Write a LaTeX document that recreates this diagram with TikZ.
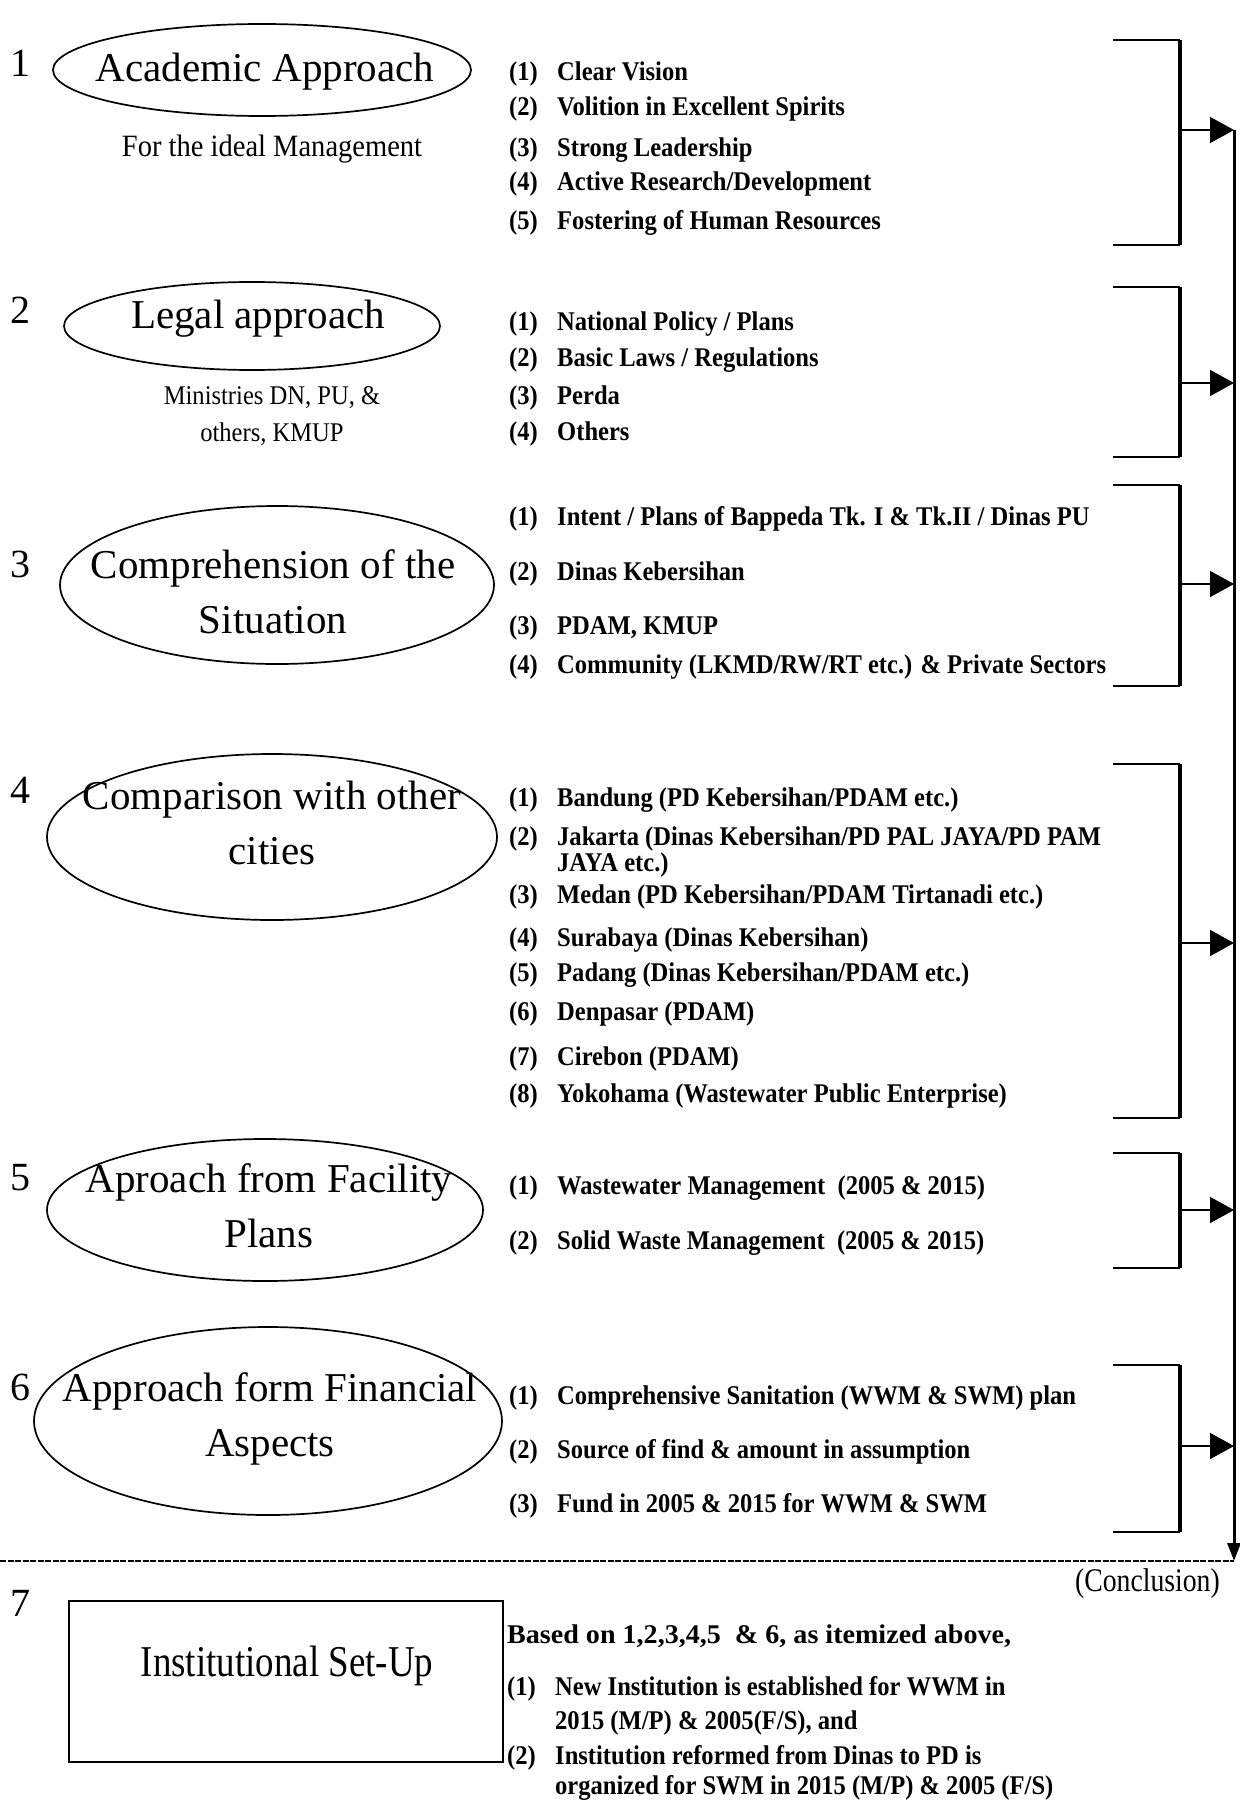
\documentclass[tikz,border=0pt]{standalone}
\usepackage{fontspec}
\setmainfont{Liberation Serif}
\newfontfamily\itemfont[FakeStretch=0.91]{Liberation Serif Bold}
\newfontfamily\basisfont[FakeStretch=1.04]{Liberation Serif Bold}
\newfontfamily\narrowfont[FakeStretch=0.84]{Liberation Serif}
\newfontfamily\notefont[FakeStretch=0.92]{Liberation Serif}
\newfontfamily\ministryfont[FakeStretch=0.91]{Liberation Serif}
\usetikzlibrary{shapes.geometric,arrows.meta}

\begin{document}
\begin{tikzpicture}[x=1pt,y=-1pt,
  ell/.style={draw, ellipse, line width=1.7pt, inner sep=0pt},
  elltext/.style={align=center, inner sep=0pt, font=\fontsize{41}{55}\selectfont},
  secnum/.style={inner sep=0pt, font=\fontsize{40}{40}\selectfont},
  inum/.style={anchor=west, inner sep=0pt, text height=22pt, text depth=4pt,
               font=\itemfont\fontsize{27}{27}\selectfont},
  note/.style={align=center, inner sep=0pt, font=\notefont\fontsize{31}{36}\selectfont},
  ministry/.style={inner sep=0pt, font=\ministryfont\fontsize{27}{36}\selectfont},
  arm/.style={line width=2pt},
  bar/.style={line width=3.5pt},
  feed/.style={line width=1.6pt, -{Triangle[length=24pt,width=26pt]}},
  trunk/.style={line width=3pt, -{Triangle[length=18pt,width=13pt]}},
  divider/.style={line width=1.6pt, dash pattern=on 6pt off 1.5pt},
  ]
\useasboundingbox (0,0) rectangle (1239,1803);

% ---------- section numbers ----------
\node[secnum] (s1) at (20,63)   {1};
\node[secnum] (s2) at (20,310)  {2};
\node[secnum] (s3) at (20,564)  {3};
\node[secnum] (s4) at (20,790)  {4};
\node[secnum] (s5) at (20,1178) {5};
\node[secnum] (s6) at (20,1387) {6};
\node[secnum] (s7) at (20,1603) {7};

% ---------- approach ellipses ----------
\node[ell, minimum width=418pt, minimum height=92pt]  (e1) at (262,70)   {};
\node[elltext] (l1) at (265,72) {Academic Approach};
\node[note] (d1) at (272,149) {For the ideal Management};

\node[ell, minimum width=376pt, minimum height=88pt]  (e2) at (252,326)  {};
\node[elltext] (l2) at (258,319) {Legal approach};
\node[ministry] (d2a) at (272,398) {Ministries DN, PU, \&};
\node[ministry] (d2b) at (272,434) {others, KMUP};

\node[ell, minimum width=434pt, minimum height=158pt] (e3) at (277,585)  {};
\node[elltext] (l3) at (273,592) {Comprehension of the\\Situation};

\node[ell, minimum width=450pt, minimum height=166pt] (e4) at (272,837)  {};
\node[elltext] (l4) at (272,823) {Comparison with other\\cities};

\node[ell, minimum width=436pt, minimum height=142pt] (e5) at (265,1210) {};
\node[elltext] (l5) at (269,1206) {Aproach from Facility\\Plans};

\node[ell, minimum width=468pt, minimum height=188pt] (e6) at (268,1421) {};
\node[elltext] (l6) at (270,1419) {Approach form Financial\\Aspects};

% ---------- item lists ----------
\foreach \y/\n/\t [count=\i] in {72/1/{Clear Vision},
    107/2/{Volition in Excellent Spirits}, 148/3/{Strong Leadership},
    182/4/{Active Research/Development}, 221/5/{Fostering of Human Resources}} {
  \node[inum] (n1-\i) at (509,\y) {(\n)};
  \node[inum] (t1-\i) at (557,\y) {\t};
}
\foreach \y/\n/\t [count=\i] in {321/1/{National Policy / Plans},
    357/2/{Basic Laws / Regulations}, 395/3/{Perda}, 431/4/{Others}} {
  \node[inum] (n2-\i) at (509,\y) {(\n)};
  \node[inum] (t2-\i) at (557,\y) {\t};
}
\foreach \y/\n/\t [count=\i] in {516/1/{Intent / Plans of Bappeda Tk. I \& Tk.II / Dinas PU},
    571/2/{Dinas Kebersihan}, 625/3/{PDAM, KMUP},
    664/4/{Community (LKMD/RW/RT etc.) \& Private Sectors}} {
  \node[inum] (n3-\i) at (509,\y) {(\n)};
  \node[inum] (t3-\i) at (557,\y) {\t};
}
\foreach \y/\n/\t [count=\i] in {797/1/{Bandung (PD Kebersihan/PDAM etc.)},
    836/2/{Jakarta (Dinas Kebersihan/PD PAL JAYA/PD PAM},
    894/3/{Medan (PD Kebersihan/PDAM Tirtanadi etc.)},
    937/4/{Surabaya (Dinas Kebersihan)}, 972/5/{Padang (Dinas Kebersihan/PDAM etc.)},
    1011/6/{Denpasar (PDAM)}, 1056/7/{Cirebon (PDAM)},
    1093/8/{Yokohama (Wastewater Public Enterprise)}} {
  \node[inum] (n4-\i) at (509,\y) {(\n)};
  \node[inum] (t4-\i) at (557,\y) {\t};
}
\node[inum] (t4-2b) at (557,862) {JAYA etc.)};
\foreach \y/\n/\t [count=\i] in {1185/1/{Wastewater Management~ (2005 \& 2015)},
    1240/2/{Solid Waste Management~ (2005 \& 2015)}} {
  \node[inum] (n5-\i) at (509,\y) {(\n)};
  \node[inum] (t5-\i) at (557,\y) {\t};
}
\foreach \y/\n/\t [count=\i] in {1395/1/{Comprehensive Sanitation (WWM \& SWM) plan},
    1449/2/{Source of find \& amount in assumption},
    1503/3/{Fund in 2005 \& 2015 for WWM \& SWM}} {
  \node[inum] (n6-\i) at (509,\y) {(\n)};
  \node[inum] (t6-\i) at (557,\y) {\t};
}

% ---------- brackets and feeds into the trunk line ----------
\foreach \k/\top/\mid/\bot in {1/40/130/245, 2/287/383/457, 3/485/584/686,
    4/764/943/1118, 5/1153/1210/1268, 6/1365/1446/1532} {
  \coordinate (b\k tl) at (1113,\top);
  \coordinate (b\k tr) at (1180,\top);
  \coordinate (b\k bl) at (1113,\bot);
  \coordinate (b\k br) at (1180,\bot);
  \coordinate (b\k m)  at (1180,\mid);
  \coordinate (m\k)    at (1234,\mid);
  \draw[arm] (b\k tl) -- (b\k tr);
  \draw[arm] (b\k bl) -- (b\k br);
  \draw[bar] (b\k tr) -- (b\k br);
  \draw[feed] (b\k m) -- (m\k);
}
\coordinate (mend) at (1234,1561);
\coordinate (hl) at (0,1561);
\draw[trunk] (m1) -- (mend);
\draw[divider] (hl) -- (mend);
\node[anchor=east, inner sep=0pt, font=\narrowfont\fontsize{33}{36}\selectfont] (concl) at (1220,1584) {(Conclusion)};

% ---------- conclusion: institutional set-up ----------
\node[draw, line width=2.2pt, minimum width=434pt, minimum height=161pt, inner sep=0pt] (box7) at (286,1681.5) {};
\node[inner sep=0pt, font=\narrowfont\fontsize{44}{44}\selectfont] (l7) at (287,1666) {Institutional Set-Up};
\node[inum, font=\basisfont\fontsize{27}{27}\selectfont] (c0) at (507,1634) {Based on 1,2,3,4,5~ \& 6, as itemized above,};
\node[inum] (c1n) at (507,1686) {(1)};
\node[inum] (c1a) at (555,1686) {New Institution is established for WWM in};
\node[inum] (c1b) at (555,1720) {2015 (M/P) \& 2005(F/S), and};
\node[inum] (c2n) at (507,1755) {(2)};
\node[inum] (c2a) at (555,1755) {Institution reformed from Dinas to PD is};
\node[inum] (c2b) at (555,1785) {organized for SWM in 2015 (M/P) \& 2005 (F/S)};

\end{tikzpicture}
\end{document}
